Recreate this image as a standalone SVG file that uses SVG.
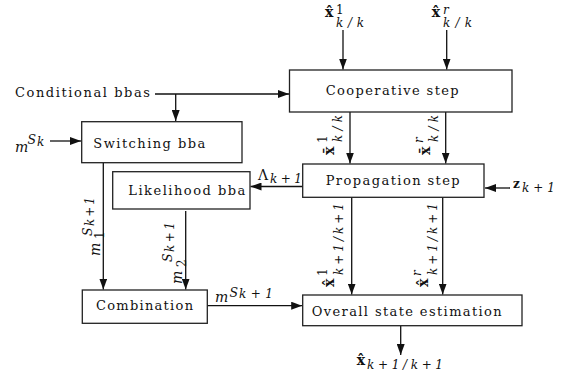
<svg xmlns="http://www.w3.org/2000/svg" width="565" height="379" viewBox="0 0 565 379">
<style>
.box{fill:#fff;stroke:#222;stroke-width:1.3}
.lbl{font-family:"DejaVu Serif","Liberation Serif",serif;font-size:13px;fill:#111}
.c{stroke:#111;stroke-width:1.3;fill:none;marker-end:url(#ah)}
.mb{font-family:"DejaVu Serif","Liberation Serif",serif;font-weight:bold;font-size:14px;fill:#111}
.mu{font-family:"DejaVu Serif","Liberation Serif",serif;font-size:14px;fill:#111}
.mi{font-family:"DejaVu Serif","Liberation Serif",serif;font-style:italic;font-size:14px;fill:#111}
.sp{font-family:"DejaVu Serif","Liberation Serif",serif;font-size:12px;fill:#111}
.si{font-family:"DejaVu Serif","Liberation Serif",serif;font-style:italic;font-size:12px;fill:#111}
.s2{font-family:"DejaVu Serif","Liberation Serif",serif;font-style:italic;font-size:12.5px;fill:#111}
</style>
<defs>
<marker id="ah" viewBox="0 0 11 8" refX="11" refY="4" markerWidth="11" markerHeight="8" markerUnits="userSpaceOnUse" orient="auto">
<path d="M0,0 L11,4 L0,8 z" fill="#111"/>
</marker>
</defs>
<rect width="565" height="379" fill="#fff"/>

<g id="connectors">
<line class="c" x1="343" y1="30" x2="343" y2="69.5"/>
<line class="c" x1="446.7" y1="30" x2="446.7" y2="69.5"/>
<line class="c" x1="155" y1="94" x2="289" y2="94"/>
<line class="c" x1="175.7" y1="94" x2="175.7" y2="121"/>
<line class="c" x1="50" y1="141" x2="81" y2="141"/>
<line class="c" x1="350" y1="112" x2="350" y2="163.5"/>
<line class="c" x1="445.7" y1="112" x2="445.7" y2="163.5"/>
<line class="c" x1="510" y1="188" x2="485" y2="188"/>
<line class="c" x1="302.7" y1="186.5" x2="250.5" y2="186.5"/>
<line class="c" x1="103.3" y1="163" x2="103.3" y2="289.5"/>
<line class="c" x1="185.7" y1="211" x2="185.7" y2="289.5"/>
<line class="c" x1="351.7" y1="197" x2="351.7" y2="294.5"/>
<line class="c" x1="442.7" y1="197" x2="442.7" y2="294.5"/>
<line class="c" x1="207.3" y1="305.7" x2="302.2" y2="305.7"/>
<line class="c" x1="400.7" y1="326" x2="400.7" y2="355"/>
</g>

<g id="cooperative">
<rect class="box" x="289.5" y="70" width="222.5" height="42"/>
<text class="lbl" x="325.7" y="95" textLength="133" lengthAdjust="spacing">Cooperative step</text>
</g>
<g id="propagation">
<rect class="box" x="302.7" y="164" width="181.3" height="33.3"/>
<text class="lbl" x="325.7" y="185" textLength="134" lengthAdjust="spacing">Propagation step</text>
</g>
<g id="switching">
<rect class="box" x="81.7" y="121.7" width="160.3" height="41"/>
<text class="lbl" x="93.3" y="148" textLength="112" lengthAdjust="spacing">Switching bba</text>
</g>
<g id="likelihood">
<rect class="box" x="112.7" y="171.7" width="137.3" height="37.3"/>
<text class="lbl" x="128.3" y="195" textLength="117" lengthAdjust="spacing">Likelihood bba</text>
</g>
<g id="combination">
<rect class="box" x="82.3" y="290" width="125" height="33.3"/>
<text class="lbl" x="96" y="310" textLength="97" lengthAdjust="spacing">Combination</text>
</g>
<g id="overall">
<rect class="box" x="302.7" y="295" width="219.3" height="30.7"/>
<text class="lbl" x="311.7" y="316" textLength="190" lengthAdjust="spacing">Overall state estimation</text>
</g>
<g id="conditional">
<text class="lbl" x="15" y="97" textLength="135" lengthAdjust="spacing">Conditional bbas</text>
</g>

<g id="labels">
<text class="mb" x="325" y="17">x&#x302;</text>
<text class="sp" x="336" y="13.5">1</text>
<text class="si" x="336" y="27" textLength="28" lengthAdjust="spacing">k/k</text>

<text class="mb" x="431.7" y="17">x&#x302;</text>
<text class="si" x="443" y="13.5">r</text>
<text class="si" x="443" y="27" textLength="29" lengthAdjust="spacing">k/k</text>

<g transform="translate(334,155) rotate(-90)">
<text class="mb" x="0" y="0">x&#x304;</text>
<text class="sp" x="12" y="-7">1</text>
<text class="si" x="13" y="8" textLength="27" lengthAdjust="spacing">k/k</text>
</g>
<g transform="translate(430,155) rotate(-90)">
<text class="mb" x="0" y="0">x&#x304;</text>
<text class="si" x="12" y="-7">r</text>
<text class="si" x="13" y="8" textLength="27" lengthAdjust="spacing">k/k</text>
</g>

<g transform="translate(334,287) rotate(-90)">
<text class="mb" x="0" y="0">x&#x302;</text>
<text class="sp" x="11" y="-7">1</text>
<text class="si" x="12" y="8.5" textLength="72" lengthAdjust="spacing">k+1/k+1</text>
</g>
<g transform="translate(428,287) rotate(-90)">
<text class="mb" x="0" y="0">x&#x302;</text>
<text class="si" x="11" y="-7">r</text>
<text class="si" x="12" y="8.5" textLength="72" lengthAdjust="spacing">k+1/k+1</text>
</g>

<text class="mu" x="258" y="180">Λ</text>
<text class="si" x="270" y="183" textLength="32" lengthAdjust="spacing">k+1</text>

<text class="mb" x="513" y="188" style="font-size:12px">z</text>
<text class="si" x="522" y="192" textLength="33" lengthAdjust="spacing">k+1</text>

<text class="mi" x="15" y="152">m</text>
<text class="s2" x="27.5" y="144">S</text>
<text class="si" x="37" y="146">k</text>

<g transform="translate(100,256) rotate(-90)">
<text class="mi" x="0" y="0">m</text>
<text class="sp" x="17" y="3.5">1</text>
<text class="s2" x="20" y="-8.5">S</text>
<text class="si" x="30" y="-6.5" textLength="29" lengthAdjust="spacing">k+1</text>
</g>
<g transform="translate(182,284) rotate(-90)">
<text class="mi" x="0" y="0">m</text>
<text class="sp" x="17" y="3.5">2</text>
<text class="s2" x="22" y="-10">S</text>
<text class="si" x="32" y="-8" textLength="30" lengthAdjust="spacing">k+1</text>
</g>

<text class="mi" x="215" y="302">m</text>
<text class="s2" x="229.5" y="297">S</text>
<text class="si" x="239" y="298" textLength="34" lengthAdjust="spacing">k+1</text>

<text class="mb" x="356.7" y="365">x&#x302;</text>
<text class="si" x="367" y="369" textLength="76" lengthAdjust="spacing">k+1/k+1</text>
</g>
</svg>
